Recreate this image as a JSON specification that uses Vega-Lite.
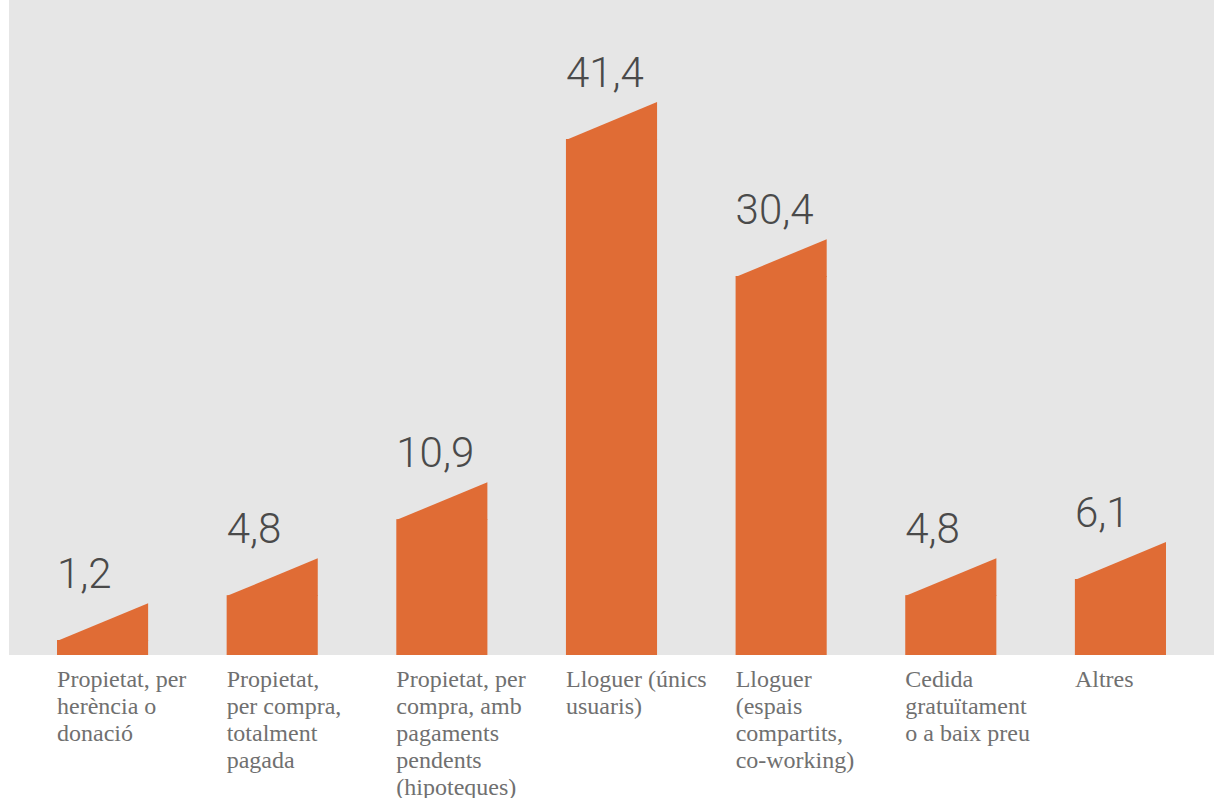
{
  "$schema": "https://vega.github.io/schema/vega-lite/v6.json",
  "width": 1205,
  "height": 655,
  "autosize": {"type": "none"},
  "padding": {"left": 9, "top": 0, "right": 0, "bottom": 143},
  "background": "#ffffff",
  "config": {"view": {"fill": "#e6e6e6", "stroke": null}},
  "data": {
    "values": [
      {"categoria": "Propietat, per|herència o|donació", "valor": 1.2},
      {"categoria": "Propietat,|per compra,|totalment|pagada", "valor": 4.8},
      {"categoria": "Propietat, per|compra, amb|pagaments|pendents|(hipoteques)", "valor": 10.9},
      {"categoria": "Lloguer (únics|usuaris)", "valor": 41.4},
      {"categoria": "Lloguer|(espais|compartits,|co-working)", "valor": 30.4},
      {"categoria": "Cedida|gratuïtament|o a baix preu", "valor": 4.8},
      {"categoria": "Altres", "valor": 6.1}
    ]
  },
  "encoding": {
    "x": {
      "field": "categoria",
      "type": "nominal",
      "sort": null,
      "scale": {"paddingInner": 0.463, "paddingOuter": 0.283},
      "axis": {
        "title": null,
        "domain": false,
        "ticks": false,
        "tickSize": 0,
        "labelAngle": 0,
        "labelAlign": "left",
        "labelBaseline": "top",
        "labelPadding": 12,
        "labelOffset": -45.5,
        "labelFont": "Liberation Serif",
        "labelFontSize": 24,
        "labelLineHeight": 27,
        "labelColor": "#707070",
        "labelLimit": 0,
        "labelExpr": "split(datum.label, '|')"
      }
    },
    "y": {
      "field": "valor",
      "type": "quantitative",
      "scale": {"domain": [0, 52.55], "nice": false},
      "axis": null
    }
  },
  "layer": [
    {
      "mark": {"type": "bar", "color": "#e06c35"}
    },
    {
      "mark": {
        "type": "point",
        "shape": "M -1 0.02 L 1 0.02 L 1 -0.81 Z",
        "size": 8300,
        "filled": true,
        "opacity": 1,
        "color": "#e06c35",
        "strokeWidth": 0
      }
    },
    {
      "transform": [{"calculate": "replace(format(datum.valor, '.1f'), '.', ',')", "as": "etiqueta"}],
      "mark": {
        "type": "text",
        "align": "left",
        "baseline": "alphabetic",
        "dy": -52,
        "font": "Roboto",
        "fontWeight": 300,
        "fontSize": 42,
        "color": "#4a4a4a"
      },
      "encoding": {
        "x": {"field": "categoria", "type": "nominal", "sort": null, "bandPosition": 0},
        "text": {"field": "etiqueta"}
      }
    }
  ]
}
